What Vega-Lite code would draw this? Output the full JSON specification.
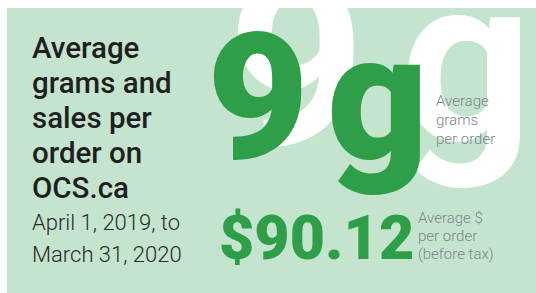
{
  "$schema": "https://vega.github.io/schema/vega-lite/v6.json",
  "width": 536,
  "height": 293,
  "autosize": {"type": "fit", "contains": "padding"},
  "padding": 0,
  "background": "white",
  "config": {"view": {"stroke": null}, "axis": {"disable": true}},
  "datasets": {
    "heading": [{"title": "Average\ngrams and\nsales per\norder on\nOCS.ca", "period": "April 1, 2019, to\nMarch 31, 2020"}],
    "grams": [{"metric": "Average grams per order", "value": 9, "unit": "g", "label": "Average\ngrams\nper order"}],
    "sales": [{"metric": "Average $ per order (before tax)", "value": 90.12, "unit": "$", "label": "Average $\nper order\n(before tax)"}]
  },
  "layer": [
    {
      "data": {"name": "heading"},
      "mark": {"type": "rect", "color": "#c4e4cd"},
      "encoding": {
        "x": {"datum": 7, "type": "quantitative", "scale": {"domain": [0, 536], "nice": false, "zero": false}},
        "x2": {"datum": 536},
        "y": {"datum": 8, "type": "quantitative", "scale": {"domain": [0, 293], "nice": false, "zero": false, "reverse": true}},
        "y2": {"datum": 293}
      }
    },
    {
      "data": {"name": "grams"},
      "mark": {"type": "text", "font": "Roboto", "fontSize": 240, "fontWeight": 700, "color": "white", "align": "left", "baseline": "alphabetic", "clip": true},
      "encoding": {
        "x": {"datum": 228, "type": "quantitative", "scale": {"domain": [0, 536], "nice": false, "zero": false}},
        "y": {"datum": 145, "type": "quantitative", "scale": {"domain": [0, 293], "nice": false, "zero": false, "reverse": true}},
        "text": {"field": "value", "type": "quantitative", "format": ".0f"}
      }
    },
    {
      "data": {"name": "grams"},
      "mark": {"type": "text", "font": "Roboto", "fontSize": 232, "fontWeight": 700, "color": "white", "align": "left", "baseline": "alphabetic", "clip": true},
      "encoding": {
        "x": {"datum": 400, "type": "quantitative", "scale": {"domain": [0, 536], "nice": false, "zero": false}},
        "y": {"datum": 140, "type": "quantitative", "scale": {"domain": [0, 293], "nice": false, "zero": false, "reverse": true}},
        "text": {"field": "unit", "type": "nominal"}
      }
    },
    {
      "data": {"name": "grams"},
      "mark": {"type": "text", "font": "Roboto", "fontSize": 15, "fontWeight": 300, "color": "#80858e", "align": "left", "baseline": "alphabetic", "lineBreak": "\n", "lineHeight": 19},
      "encoding": {
        "x": {"datum": 436, "type": "quantitative", "scale": {"domain": [0, 536], "nice": false, "zero": false}},
        "y": {"datum": 106, "type": "quantitative", "scale": {"domain": [0, 293], "nice": false, "zero": false, "reverse": true}},
        "text": {"field": "label", "type": "nominal"}
      }
    },
    {
      "data": {"name": "grams"},
      "mark": {"type": "text", "font": "Roboto", "fontSize": 176, "fontWeight": 900, "color": "#2e9e48", "align": "left", "baseline": "alphabetic"},
      "encoding": {
        "x": {"datum": 207, "type": "quantitative", "scale": {"domain": [0, 536], "nice": false, "zero": false}},
        "y": {"datum": 158, "type": "quantitative", "scale": {"domain": [0, 293], "nice": false, "zero": false, "reverse": true}},
        "text": {"field": "value", "type": "quantitative", "format": ".0f"}
      }
    },
    {
      "data": {"name": "grams"},
      "mark": {"type": "text", "font": "Roboto", "fontSize": 176, "fontWeight": 900, "color": "#2e9e48", "align": "left", "baseline": "alphabetic"},
      "encoding": {
        "x": {"datum": 327, "type": "quantitative", "scale": {"domain": [0, 536], "nice": false, "zero": false}},
        "y": {"datum": 158, "type": "quantitative", "scale": {"domain": [0, 293], "nice": false, "zero": false, "reverse": true}},
        "text": {"field": "unit", "type": "nominal"}
      }
    },
    {
      "data": {"name": "sales"},
      "mark": {"type": "text", "font": "Roboto", "fontSize": 61, "fontWeight": 900, "color": "#2e9e48", "align": "left", "baseline": "alphabetic"},
      "encoding": {
        "x": {"datum": 219, "type": "quantitative", "scale": {"domain": [0, 536], "nice": false, "zero": false}},
        "y": {"datum": 259, "type": "quantitative", "scale": {"domain": [0, 293], "nice": false, "zero": false, "reverse": true}},
        "text": {"field": "value", "type": "quantitative", "format": "$.2f"}
      }
    },
    {
      "data": {"name": "sales"},
      "mark": {"type": "text", "font": "Roboto", "fontSize": 15, "fontWeight": 300, "color": "#80858e", "align": "left", "baseline": "alphabetic", "lineBreak": "\n", "lineHeight": 18},
      "encoding": {
        "x": {"datum": 418, "type": "quantitative", "scale": {"domain": [0, 536], "nice": false, "zero": false}},
        "y": {"datum": 223, "type": "quantitative", "scale": {"domain": [0, 293], "nice": false, "zero": false, "reverse": true}},
        "text": {"field": "label", "type": "nominal"}
      }
    },
    {
      "data": {"name": "heading"},
      "mark": {"type": "text", "font": "Roboto", "fontSize": 29.5, "fontWeight": 500, "color": "#1f1f1f", "align": "left", "baseline": "alphabetic", "lineBreak": "\n", "lineHeight": 35},
      "encoding": {
        "x": {"datum": 32, "type": "quantitative", "scale": {"domain": [0, 536], "nice": false, "zero": false}},
        "y": {"datum": 58, "type": "quantitative", "scale": {"domain": [0, 293], "nice": false, "zero": false, "reverse": true}},
        "text": {"field": "title", "type": "nominal"}
      }
    },
    {
      "data": {"name": "heading"},
      "mark": {"type": "text", "font": "Roboto", "fontSize": 22, "fontWeight": 300, "color": "#2a2a2a", "align": "left", "baseline": "alphabetic", "lineBreak": "\n", "lineHeight": 32},
      "encoding": {
        "x": {"datum": 32, "type": "quantitative", "scale": {"domain": [0, 536], "nice": false, "zero": false}},
        "y": {"datum": 230, "type": "quantitative", "scale": {"domain": [0, 293], "nice": false, "zero": false, "reverse": true}},
        "text": {"field": "period", "type": "nominal"}
      }
    }
  ]
}
